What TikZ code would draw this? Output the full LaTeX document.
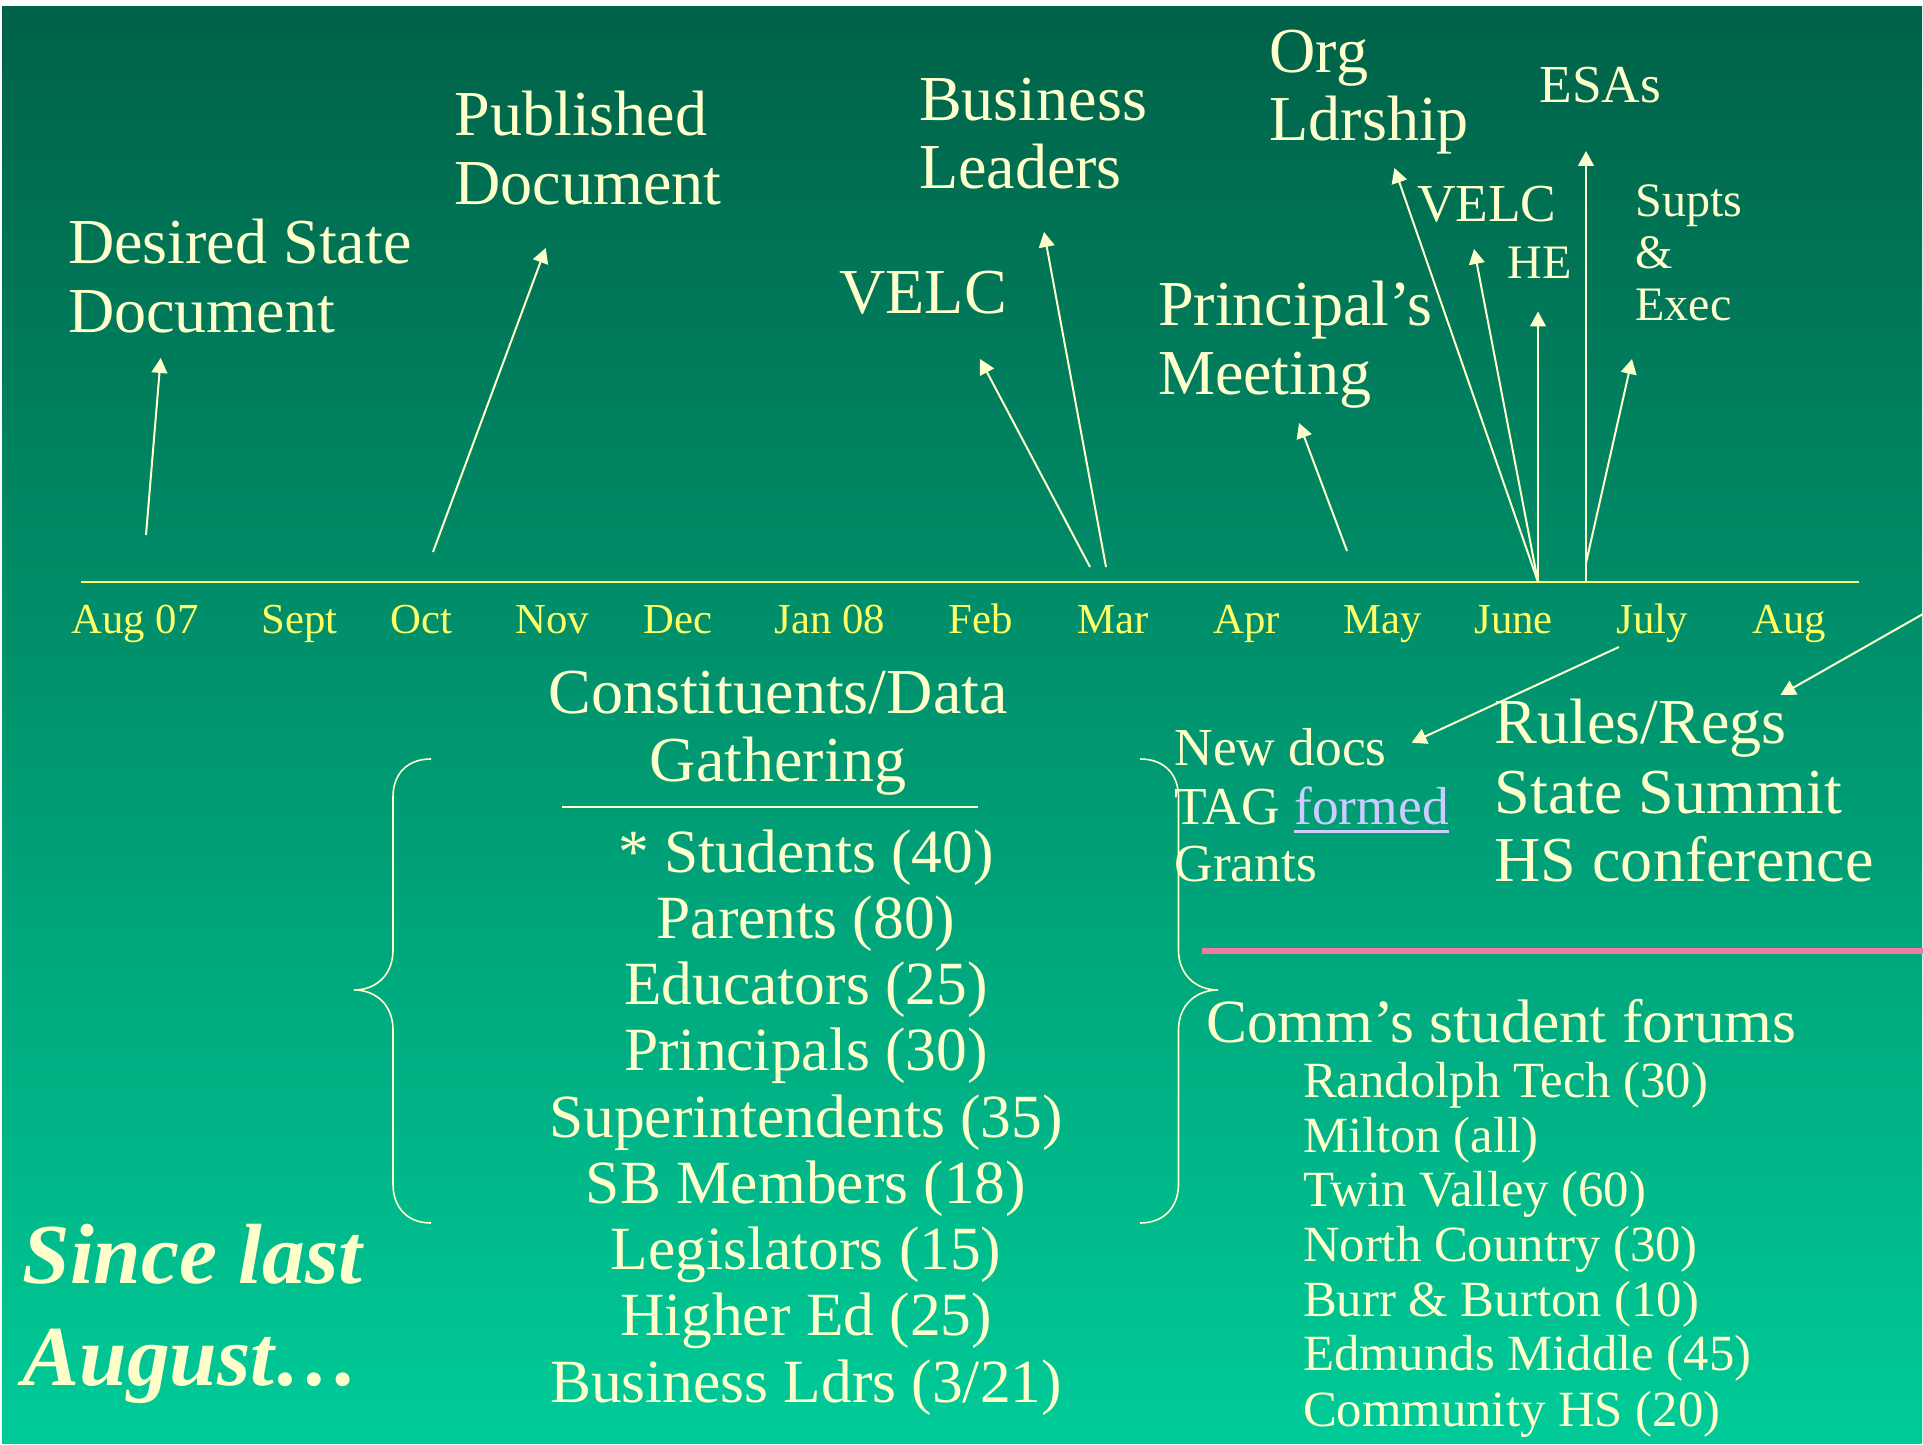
\documentclass[tikz,border=0pt]{standalone}
\usepackage{fontspec}
\setmainfont{Liberation Serif}
\usetikzlibrary{arrows.meta}
\definecolor{cream}{HTML}{FFFFCC}
\definecolor{ylw}{HTML}{FFFF66}
\definecolor{bgtop}{RGB}{0,98,72}
\definecolor{bgbot}{RGB}{0,203,152}
\definecolor{pinkline}{RGB}{240,124,166}
\definecolor{linkcol}{RGB}{204,204,255}
\begin{document}
\begin{tikzpicture}[x=0.3744pt,y=-0.3744pt,
  lbl/.style={anchor=base west,inner sep=0pt,text=cream,font=\fontsize{24}{28}\selectfont},
  lblc/.style={lbl,font=\fontsize{23}{27}\selectfont},
  lblm/.style={lbl,font=\fontsize{20}{24}\selectfont},
  lbls/.style={lbl,font=\fontsize{18}{22}\selectfont},
  lbll/.style={lbl,font=\fontsize{19}{22}\selectfont},
  ctr/.style={anchor=base,inner sep=0pt,text=cream,font=\fontsize{24}{28}\selectfont},
  ctrl/.style={ctr,font=\fontsize{23}{27}\selectfont},
  month/.style={anchor=base west,inner sep=0pt,text=ylw,font=\fontsize{16}{19}\selectfont},
  since/.style={anchor=base west,inner sep=0pt,text=cream,font=\fontsize{32}{38}\selectfont\bfseries\itshape},
  arr/.style={draw=cream,line width=0.75pt,-{Triangle[width=5.9pt,length=5.6pt]}},
  brace/.style={draw=cream,line width=0.6pt}]
\useasboundingbox (0,0) rectangle (1923,1445);
\fill[white] (0,0) rectangle (1923,1445);
\shade[top color=bgtop,bottom color=bgbot] (2,7) rectangle (1922,1443);

% timeline
\coordinate (tl0) at (81,582);
\coordinate (tl1) at (1859,582);
\draw[ylw,line width=0.8pt] (tl0) -- (tl1);

% months
\node[month] (m1) at (71,634) {Aug 07};
\node[month] (m2) at (261,634) {Sept};
\node[month] (m3) at (390,634) {Oct};
\node[month] (m4) at (515,634) {Nov};
\node[month] (m5) at (643,634) {Dec};
\node[month] (m6) at (774,634) {Jan 08};
\node[month] (m7) at (948,634) {Feb};
\node[month] (m8) at (1077,634) {Mar};
\node[month] (m9) at (1213,634) {Apr};
\node[month] (m10) at (1343,634) {May};
\node[month] (m11) at (1474,634) {June};
\node[month] (m12) at (1616,634) {July};
\node[month] (m13) at (1752,634) {Aug};

% top labels
\node[lbl] (ds1) at (67.5,264) {Desired State};
\node[lbl] (ds2) at (67.5,332.5) {Document};
\node[lbl] (pd1) at (454,136) {Published};
\node[lbl] (pd2) at (454,204.5) {Document};
\node[lbl] (bl1) at (918.5,120.5) {Business};
\node[lbl] (bl2) at (918.5,188.5) {Leaders};
\node[lbl] (velc1) at (839,314) {VELC};
\node[lbl] (pm1) at (1157.5,326) {Principal’s};
\node[lbl] (pm2) at (1157.5,395) {Meeting};
\node[lbl] (ol1) at (1269,73) {Org};
\node[lbl] (ol2) at (1269,140.5) {Ldrship};
\node[lblm] (esa) at (1539,103) {ESAs};
\node[lblm] (velc2) at (1416.5,222) {VELC};
\node[lbls] (he) at (1507,279) {HE};
\node[lbls] (sp1) at (1635,217) {Supts};
\node[lbls] (sp2) at (1635,268.5) {\&};
\node[lbls] (sp3) at (1635,320.5) {Exec};

% arrows up
\coordinate (a1s) at (146,535);   \coordinate (a1e) at (160.7,358);
\coordinate (a2s) at (433,552);   \coordinate (a2e) at (545.7,248);
\coordinate (a3s) at (1090,567);  \coordinate (a3e) at (980,359);
\coordinate (a4s) at (1106,567);  \coordinate (a4e) at (1044,232);
\coordinate (a5s) at (1347,551);  \coordinate (a5e) at (1299,423);
\coordinate (jun) at (1538,582);
\coordinate (a6e) at (1394.4,168);
\coordinate (a7e) at (1474,249);
\coordinate (a8e) at (1538,311.5);
\coordinate (jul) at (1586,582);
\coordinate (a9e) at (1586,151);
\coordinate (a10s) at (1586,563); \coordinate (a10e) at (1632,359);
\draw[arr] (a1s) -- (a1e);
\draw[arr] (a2s) -- (a2e);
\draw[arr] (a3s) -- (a3e);
\draw[arr] (a4s) -- (a4e);
\draw[arr] (a5s) -- (a5e);
\draw[arr] (jun) -- (a6e);
\draw[arr] (jun) -- (a7e);
\draw[arr] (jun) -- (a8e);
\draw[arr] (jul) -- (a9e);
\draw[arr] (a10s) -- (a10e);

% arrows down-left
\coordinate (a11s) at (1619,647); \coordinate (a11e) at (1411.6,742.7);
\coordinate (a12s) at (1923,614); \coordinate (a12e) at (1780.5,695);
\draw[arr] (a11s) -- (a11e);
\draw[arr] (a12s) -- (a12e);

% constituents block
\node[ctr] (cd1) at (778,714) {Constituents/Data};
\node[ctr] (cd2) at (778,781) {Gathering};
\coordinate (r0) at (562,807);
\coordinate (r1) at (978,807);
\draw[cream,line width=0.6pt] (r0) -- (r1);
\node[ctrl] (c1) at (806,872) {* Students (40)};
\node[ctrl] (c2) at (806,938) {Parents (80)};
\node[ctrl] (c3) at (806,1004.5) {Educators (25)};
\node[ctrl] (c4) at (806,1070.5) {Principals (30)};
\node[ctrl] (c5) at (806,1137) {Superintendents (35)};
\node[ctrl] (c6) at (806,1203) {SB Members (18)};
\node[ctrl] (c7) at (806,1269.5) {Legislators (15)};
\node[ctrl] (c8) at (806,1335.5) {Higher Ed (25)};
\node[ctrl] (c9) at (806,1402) {Business Ldrs (3/21)};

% braces
\draw[brace] (431,759) .. controls (406,759) and (393,775) .. (393,797)
  -- (393,950) .. controls (393,975) and (376,990) .. (354,990)
  .. controls (376,990) and (393,1005) .. (393,1030)
  -- (393,1184) .. controls (393,1206) and (406,1223) .. (431,1223);
\draw[brace] (1140,759) .. controls (1165,759) and (1178.5,775) .. (1178.5,797)
  -- (1178.5,950) .. controls (1178.5,975) and (1196,990) .. (1218,990)
  .. controls (1196,990) and (1178.5,1005) .. (1178.5,1030)
  -- (1178.5,1184) .. controls (1178.5,1206) and (1165,1223) .. (1140,1223);

% since last august
\node[since] (sl1) at (22,1283) {Since last};
\node[since] (sl2) at (22,1385) {August…};

% new docs
\node[lblm] (nd1) at (1174,766) {New docs};
\node[lblm] (nd2) at (1174,824) {TAG};
\node[lblm,text=linkcol,anchor=base west] (fm) at ([xshift=5pt]nd2.base east) {formed};
\draw[linkcol,line width=0.9pt] ([yshift=-2.8pt]fm.base west) -- ([yshift=-2.8pt]fm.base east);
\node[lblm] (nd3) at (1174,881.5) {Grants};

% rules/regs
\node[lbl] (rr1) at (1494,743.5) {Rules/Regs};
\node[lbl] (rr2) at (1494,813) {State Summit};
\node[lbl] (rr3) at (1494,881.5) {HS conference};

% pink line
\coordinate (p0) at (1202,951);
\coordinate (p1) at (1923,951);
\draw[pinkline,line width=2pt] (p0) -- (p1);

% forums
\node[lblc] (cf) at (1205.5,1042.5) {Comm’s student forums};
\node[lbll] (f1) at (1302.5,1097.3) {Randolph Tech (30)};
\node[lbll] (f2) at (1302.5,1152) {Milton (all)};
\node[lbll] (f3) at (1302.5,1206.7) {Twin Valley (60)};
\node[lbll] (f4) at (1302.5,1261.7) {North Country (30)};
\node[lbll] (f5) at (1302.5,1316.5) {Burr \& Burton (10)};
\node[lbll] (f6) at (1302.5,1370.7) {Edmunds Middle (45)};
\node[lbll] (f7) at (1302.5,1426) {Community HS (20)};
\end{tikzpicture}
\end{document}
